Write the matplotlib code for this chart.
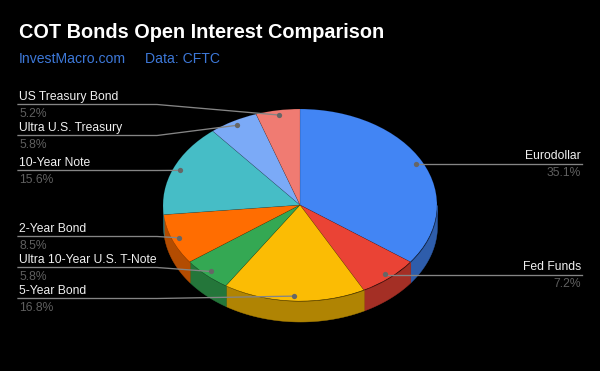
import numpy as np
import matplotlib
matplotlib.use('Agg')
import matplotlib.pyplot as plt
from matplotlib.colors import to_rgb

labels = ["Eurodollar", "Fed Funds", "5-Year Bond", "Ultra 10-Year U.S. T-Note",
          "2-Year Bond", "10-Year Note", "Ultra U.S. Treasury", "US Treasury Bond"]
shares = [35.1, 7.2, 16.8, 5.8, 8.5, 15.6, 5.8, 5.2]
colors = ["#4285F4", "#EA4335", "#FBBC04", "#34A853",
          "#FF6D01", "#46BDC6", "#7BAAF7", "#F07B72"]

# pixel layout of the reference
CX, CY, RX, RY = 300, 205, 137, 96
DEPTH = 20.5 / RY
line_y = [163, 274, 298, 267, 236, 170, 135, 104]

plt.rcParams['font.family'] = ['Liberation Sans', 'DejaVu Sans']

fig = plt.figure(figsize=(6, 3.71), dpi=100, facecolor="black")

# pie axes: one data unit is RX pixels across and RY pixels down
ax = fig.add_axes([0, 0, 1, 1], facecolor="black")
edges = np.cumsum([0] + shares) / sum(shares) * 2 * np.pi

# side wall, only the front half shows
for i, c in enumerate(colors):
    lo, hi = max(edges[i], np.pi / 2), min(edges[i + 1], 3 * np.pi / 2)
    if hi <= lo:
        continue
    t = np.linspace(lo, hi, 60)
    dark = tuple(v * 0.7 for v in to_rgb(c))
    ax.fill_between(np.sin(t), np.cos(t), np.cos(t) - DEPTH, color=dark, lw=0.3)

ax.pie(shares, colors=colors, startangle=90, counterclock=False, radius=1,
       wedgeprops={"edgecolor": "#00000030", "linewidth": 0.4})
ax.set_aspect("auto")
ax.set_xlim(-CX / RX, (600 - CX) / RX)
ax.set_ylim(-(371 - CY) / RY, CY / RY)
ax.axis("off")

# overlay in pixels for text and leader lines
ov = fig.add_axes([0, 0, 1, 1], facecolor="none")
ov.set_xlim(0, 600)
ov.set_ylim(371, 0)
ov.axis("off")

mids = (edges[:-1] + edges[1:]) / 2
for name, share, mid, y in zip(labels, shares, mids, line_y):
    dot_x = CX + 0.95 * RX * np.sin(mid)
    dot_y = CY - 0.95 * RY * np.cos(mid)
    if dot_x > CX + 50:
        ov.plot([dot_x, 582], [y + 0.5, y + 0.5], color="#858585", lw=0.95)
        ov.text(581, y - 4, name, color="#f0f0f0", fontsize=8.7, ha="right", va="baseline")
        ov.text(581, y + 13, f"{share}%", color="#5f5f5f", fontsize=8.7, ha="right", va="baseline")
    else:
        ov.plot([18, 157, dot_x], [y + 0.5, y + 0.5, dot_y], color="#858585", lw=0.95)
        ov.text(19, y - 4, name, color="#f0f0f0", fontsize=8.7, ha="left", va="baseline")
        ov.text(19, y + 13, f"{share}%", color="#5f5f5f", fontsize=8.7, ha="left", va="baseline")
    ov.plot([dot_x], [dot_y], "o", color="#666666", ms=3.8, mew=0)

ov.text(19, 38, "COT Bonds Open Interest Comparison", color="white",
        fontsize=14.35, fontweight="bold", va="baseline")
ov.text(19, 63, "InvestMacro.com", color="#3d78d8", fontsize=10.1, va="baseline")
ov.text(145, 63, "Data: CFTC", color="#3d78d8", fontsize=10.1, va="baseline")

fig.savefig("out.png", dpi=100, facecolor="black")
plt.close(fig)
